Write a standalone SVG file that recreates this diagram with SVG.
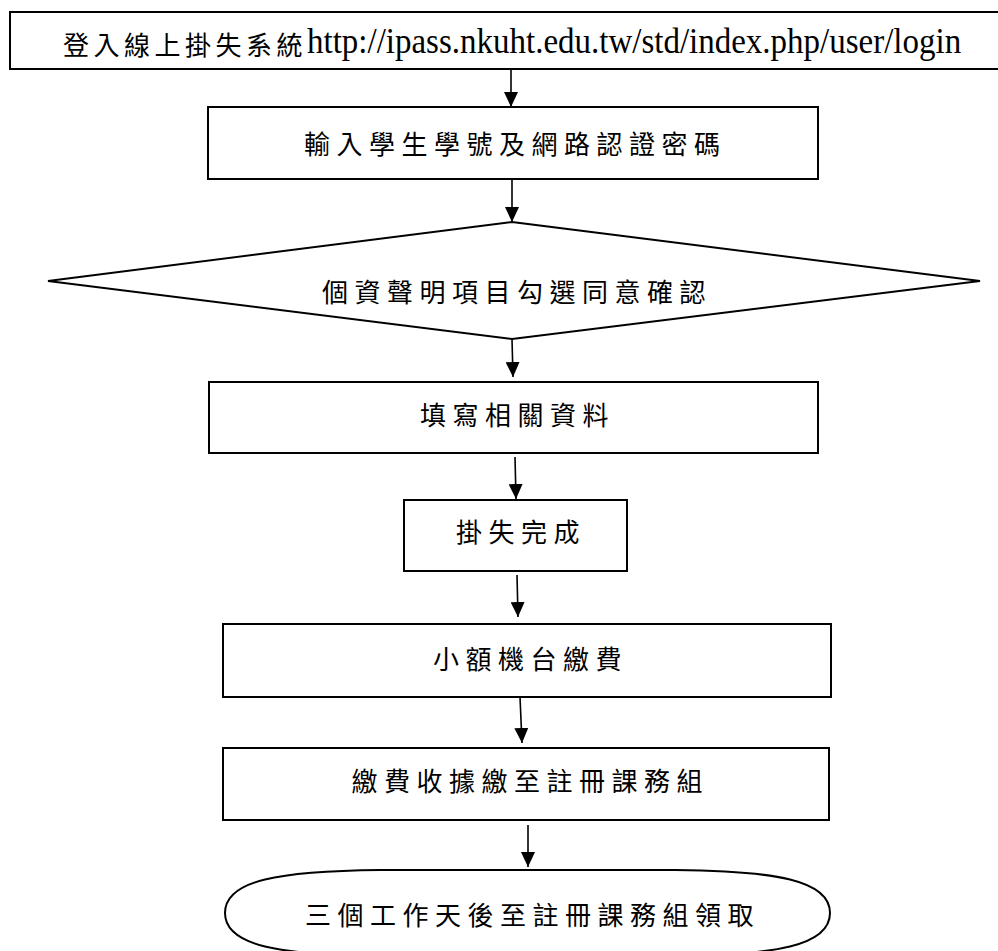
<svg xmlns="http://www.w3.org/2000/svg" width="998" height="951" viewBox="0 0 998 951">
<style>
.box{fill:#fff;stroke:#000;stroke-width:2}
.t{font-family:"Noto Sans CJK TC","Noto Sans CJK SC",sans-serif;font-size:26px;letter-spacing:6.5px;fill:#000}
.u{font-family:"Liberation Serif",serif;font-size:33px;fill:#000}
.c{stroke:#000;stroke-width:1.6;fill:none;marker-end:url(#ah)}
</style>
<defs>
<marker id="ah" markerUnits="userSpaceOnUse" markerWidth="15" markerHeight="14" refX="15" refY="7" orient="auto" viewBox="0 0 15 14">
<path d="M0 0 L15 7 L0 14 Z" fill="#000"/>
</marker>
</defs>
<rect width="998" height="951" fill="#fff"/>
<g id="n1">
<rect class="box" x="10" y="12" width="995" height="57"/>
<text class="t" x="63" y="54.5" style="letter-spacing:4.5px">登入線上掛失系統</text>
<text class="u" transform="translate(307 53) scale(1 1.09)" x="0" y="0">http://ipass.nkuht.edu.tw/std/index.php/user/login</text>
</g>
<g id="n2">
<rect class="box" x="208" y="107" width="610" height="72"/>
<text class="t" x="304" y="153.5">輸入學生學號及網路認證密碼</text>
</g>
<g id="n3">
<polygon class="box" points="512,222 980,281 512,339 48,281"/>
<text class="t" x="322" y="301.5">個資聲明項目勾選同意確認</text>
</g>
<g id="n4">
<rect class="box" x="209" y="382" width="609" height="71"/>
<text class="t" x="420" y="425">填寫相關資料</text>
</g>
<g id="n5">
<rect class="box" x="404" y="500" width="223" height="71"/>
<text class="t" x="456" y="542">掛失完成</text>
</g>
<g id="n6">
<rect class="box" x="223" y="624" width="608" height="73"/>
<text class="t" x="433" y="668.5">小額機台繳費</text>
</g>
<g id="n7">
<rect class="box" x="223" y="748" width="606" height="72"/>
<text class="t" x="351.5" y="790.5">繳費收據繳至註冊課務組</text>
</g>
<g id="n8">
<path class="box" d="M225 913 C225 880 280 871 380 870 L675 870 C775 871 830 880 830 913 C830 946 775 955 675 956 L380 956 C280 955 225 946 225 913 Z"/>
<text class="t" x="305" y="925">三個工作天後至註冊課務組領取</text>
</g>
<g id="connectors">
<line class="c" x1="511" y1="69" x2="511" y2="107"/>
<line class="c" x1="512" y1="179" x2="512" y2="222"/>
<line class="c" x1="512" y1="339" x2="513" y2="377"/>
<line class="c" x1="515" y1="457" x2="516" y2="499"/>
<line class="c" x1="517" y1="575" x2="518" y2="617"/>
<line class="c" x1="520" y1="697" x2="522" y2="743"/>
<line class="c" x1="528" y1="825" x2="528" y2="867"/>
</g>
</svg>
